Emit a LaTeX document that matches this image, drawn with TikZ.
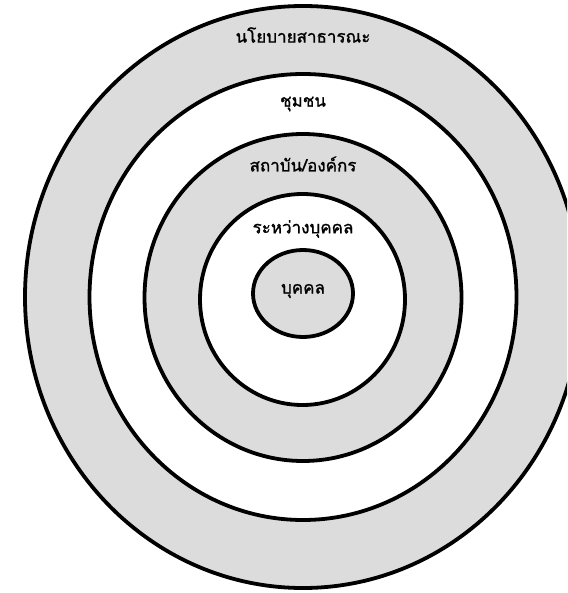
\documentclass[tikz,border=0pt]{standalone}
\usepackage{fontspec}
\newfontfamily\thaifont[Script=Thai,FakeBold=1.2]{Loma}
\definecolor{ringgray}{RGB}{220,220,220}
\tikzset{
ring/.style={draw=black,line width=3.8pt},
graybelt/.style={ring,fill=ringgray},
whitebelt/.style={ring,fill=white},
lbl/.style={font=\thaifont\fontsize{17}{20}\selectfont,inner sep=0pt}
}

\begin{document}
\begin{tikzpicture}[x=1pt,y=-1pt]
\useasboundingbox (0,0) rectangle (567,593);
\clip (0,0) rectangle (567,593);
\draw[graybelt] (303,297) ellipse [x radius=278,y radius=291];
\draw[whitebelt] (303,297) ellipse [x radius=213.5,y radius=223];
\draw[graybelt] (303,297.5) ellipse [x radius=158.5,y radius=163.5];
\draw[whitebelt] (302.5,299.5) ellipse [x radius=102.5,y radius=105.5];
\draw[graybelt] (303,293.5) ellipse [x radius=50,y radius=43.5];
\node[lbl] (policy) at (303,35) {นโยบายสาธารณะ};
\node[lbl] (community) at (303,104) {ชุมชน};
\node[lbl] (org) at (303,164) {สถาบัน/องค์กร};
\node[lbl] (inter) at (303,229) {ระหว่างบุคคล};
\node[lbl] (person) at (303,291) {บุคคล};
\end{tikzpicture}
\end{document}
